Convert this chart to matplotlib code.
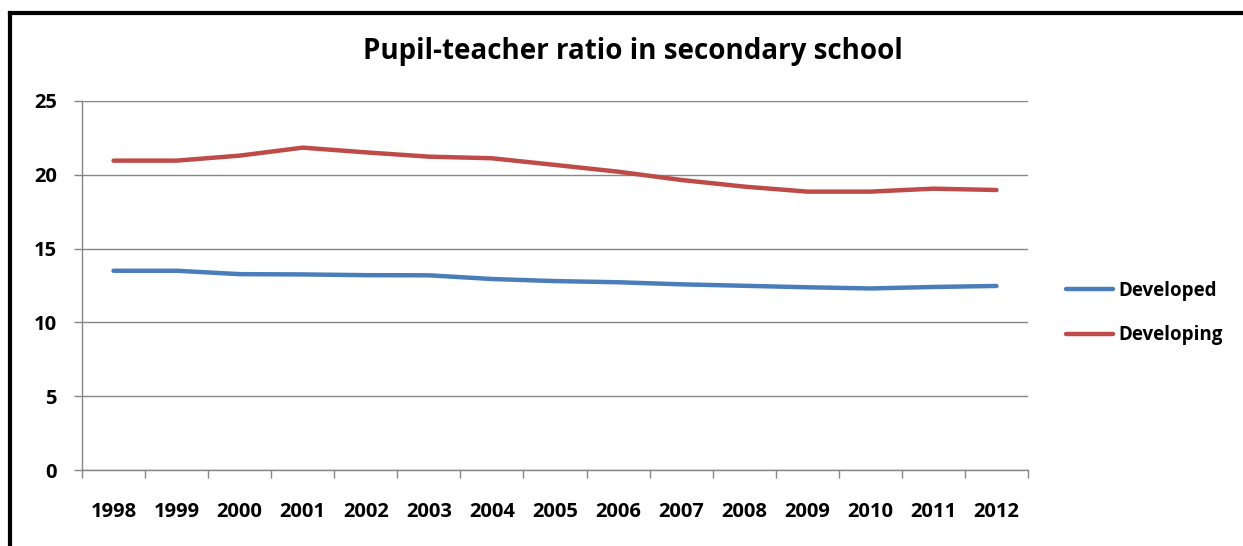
import matplotlib
matplotlib.use("Agg")
import matplotlib.pyplot as plt
from matplotlib.lines import Line2D
import numpy as np

years = ["1998", "1999", "2000", "2001", "2002", "2003", "2004", "2005",
         "2006", "2007", "2008", "2009", "2010", "2011", "2012"]
developed = [13.5, 13.5, 13.27, 13.25, 13.2, 13.19, 12.94, 12.8, 12.72,
             12.58, 12.48, 12.38, 12.3, 12.4, 12.47]
developing = [20.96, 20.96, 21.3, 21.84, 21.52, 21.23, 21.12, 20.67, 20.21,
              19.65, 19.2, 18.86, 18.86, 19.06, 18.97]
yticks = [0, 5, 10, 15, 20, 25]

plt.rcParams['font.family'] = ['Open Sans', 'DejaVu Sans']

fig = plt.figure(figsize=(12.43, 5.46), dpi=100)
ax = fig.add_axes([82/1243, 1-470/546, (1028-82)/1243, (470-101)/546])

x = np.arange(len(years))
ax.plot(x, developed, color="#4A7EBB", lw=3.2, solid_capstyle="round", label="Developed")
ax.plot(x, developing, color="#BE4B48", lw=3.2, solid_capstyle="round", label="Developing")

ax.set_xlim(-0.5, len(years) - 0.5)
ax.set_ylim(0, 25)
ax.set_yticks(yticks)
ax.set_yticklabels([str(v) for v in yticks], fontsize=14.5, fontweight="bold")
ax.set_xticks(x)
ax.set_xticklabels(years, fontsize=14.5, fontweight="bold")
ax.set_xticks(np.arange(-0.5, len(years), 1.0), minor=True)
ax.tick_params(axis="x", which="major", length=0, pad=23)
ax.tick_params(axis="x", which="minor", length=6, color="#868686", width=1, direction="out")
ax.tick_params(axis="y", length=6, color="#868686", width=1, direction="out", pad=12)
ax.yaxis.grid(True, color="#868686", lw=1)
ax.set_axisbelow(True)
for s in ["top", "right"]:
    ax.spines[s].set_visible(False)
for s in ["left", "bottom"]:
    ax.spines[s].set_color("#868686")
    ax.spines[s].set_linewidth(1)

fig.text(633/1243, 1-52/546, "Pupil-teacher ratio in secondary school",
         ha="center", va="center", fontsize=20, fontweight="bold")

leg = fig.legend(loc="center left", bbox_to_anchor=(1049/1243, 1-313/546),
                 frameon=False, prop={"size": 13.5, "weight": "bold"},
                 handlelength=2.5, handletextpad=0.3, labelspacing=1.3)

fig.add_artist(Line2D([10/1243, 1.0], [1-12.5/546, 1-12.5/546], color="black", lw=3,
                      transform=fig.transFigure, solid_capstyle="projecting"))
fig.add_artist(Line2D([10/1243, 10/1243], [1-12.5/546, 0.0], color="black", lw=3,
                      transform=fig.transFigure, solid_capstyle="projecting"))

fig.savefig("out.png", dpi=100)
